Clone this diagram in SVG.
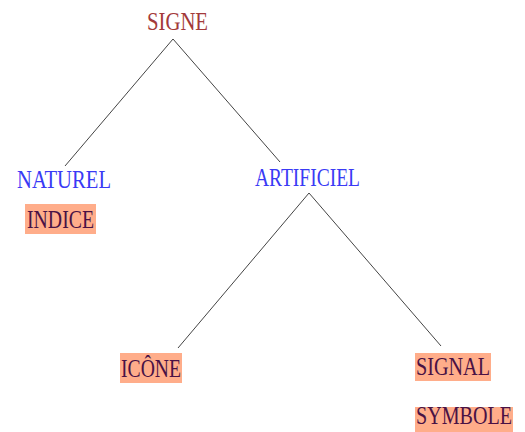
<svg xmlns="http://www.w3.org/2000/svg" width="525" height="432" viewBox="0 0 525 432">
<style>
text{font-family:"Liberation Serif","Times New Roman",serif;font-size:25px}
.root{fill:#a33a3a}
.cat{fill:#3a3af5}
.leaf{fill:#4a1245}
.box{fill:#ffad8a}
.edge{stroke:#444;stroke-width:1;fill:none}
</style>
<rect width="525" height="432" fill="#fff"/>
<g id="connectors">
<line class="edge" x1="173" y1="39" x2="65" y2="166"/>
<line class="edge" x1="173" y1="39" x2="280" y2="162"/>
<line class="edge" x1="309" y1="193" x2="178" y2="348"/>
<line class="edge" x1="309" y1="193" x2="441" y2="346"/>
</g>
<g id="signe"><text class="root" x="147" y="30" textLength="61" lengthAdjust="spacingAndGlyphs">SIGNE</text></g>
<g id="naturel"><text class="cat" x="17" y="188" textLength="94" lengthAdjust="spacingAndGlyphs">NATUREL</text></g>
<g id="artificiel"><text class="cat" x="255" y="186" textLength="105" lengthAdjust="spacingAndGlyphs">ARTIFICIEL</text></g>
<g id="indice"><rect class="box" x="25" y="204" width="71" height="30"/><text class="leaf" x="27" y="228" textLength="67" lengthAdjust="spacingAndGlyphs">INDICE</text></g>
<g id="icone"><rect class="box" x="120" y="353" width="62" height="30"/><text class="leaf" x="121" y="377" textLength="60" lengthAdjust="spacingAndGlyphs">ICÔNE</text></g>
<g id="signal"><rect class="box" x="415" y="353" width="76" height="28"/><text class="leaf" x="416" y="375" textLength="74" lengthAdjust="spacingAndGlyphs">SIGNAL</text></g>
<g id="symbole"><rect class="box" x="415" y="407" width="98" height="25"/><text class="leaf" x="416" y="424" font-size="24" textLength="96" lengthAdjust="spacingAndGlyphs">SYMBOLE</text></g>
</svg>
